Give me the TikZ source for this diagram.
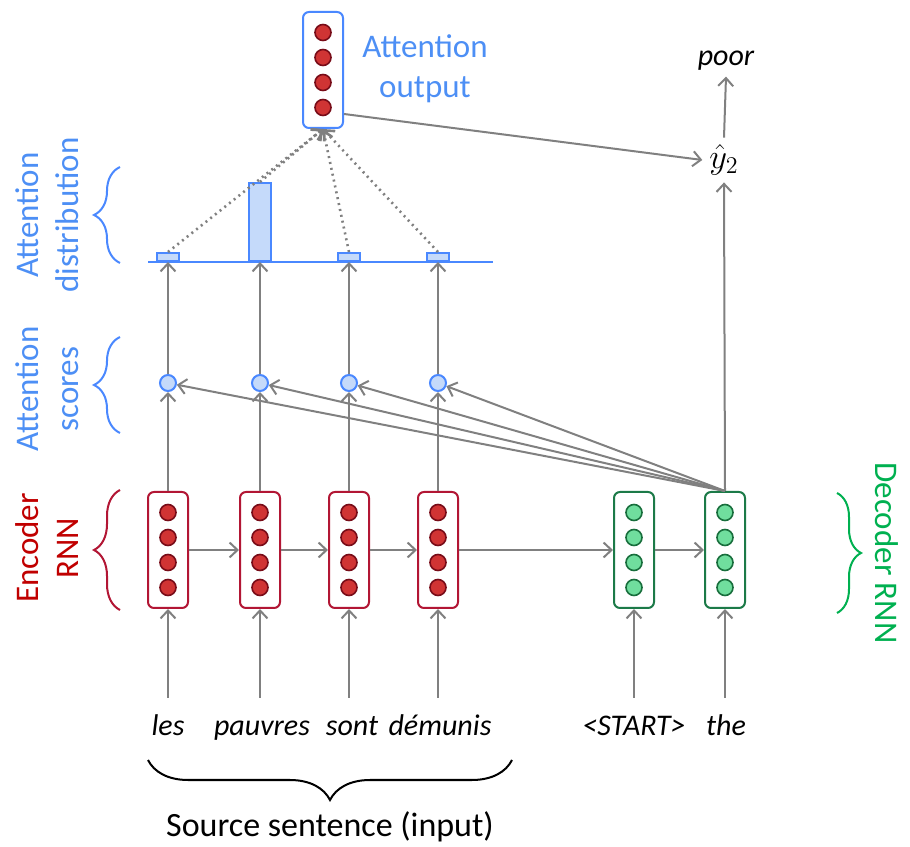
\documentclass[tikz,border=0pt]{standalone}
\usepackage{fontspec}
\setmainfont{Carlito}
\usetikzlibrary{arrows.meta,decorations.pathreplacing}

\definecolor{attblue}{RGB}{74,136,255}
\definecolor{attfill}{RGB}{197,218,250}
\definecolor{encred}{RGB}{178,22,52}
\definecolor{encdot}{RGB}{208,52,52}
\definecolor{encdotline}{RGB}{120,12,24}
\definecolor{decgreen}{RGB}{28,122,72}
\definecolor{decdot}{RGB}{112,222,158}
\definecolor{decdotline}{RGB}{24,110,60}
\definecolor{txtred}{RGB}{192,0,0}
\definecolor{txtgreen}{RGB}{0,176,80}
\definecolor{txtblue}{RGB}{77,143,245}
\definecolor{arrgray}{RGB}{128,128,128}

\begin{document}
\begin{tikzpicture}[x=0.5pt, y=0.5pt,
    cell/.style={draw, rounded corners=3pt, line width=1pt, fill=white,
      minimum width=20pt, minimum height=58pt, inner sep=0pt},
    enccell/.style={cell, draw=encred},
    deccell/.style={cell, draw=decgreen},
    outcell/.style={cell, draw=attblue},
    dot/.style={circle, line width=0.8pt, minimum size=8pt, inner sep=0pt},
    encdot/.style={dot, draw=encdotline, fill=encdot},
    decdot/.style={dot, draw=decdotline, fill=decdot},
    score/.style={circle, draw=attblue, fill=attfill, line width=1pt,
      minimum size=8pt, inner sep=0pt},
    bar/.style={draw=attblue, fill=attfill, line width=1pt, anchor=south,
      minimum width=11pt, inner sep=0pt},
    arr/.style={draw=arrgray, line width=1pt, -{Straight Barb[length=4pt,width=7.5pt]}},
    dotarr/.style={arr, dotted, line width=1.3pt},
    word/.style={font=\fontsize{15}{18}\selectfont\itshape,
      text height=1.6ex, text depth=0.4ex},
    side/.style={font=\fontsize{16.5}{20}\selectfont, align=center},
    brc/.style={decorate, line width=1pt, decoration={brace, amplitude=#1}}]
  \useasboundingbox (0,0) rectangle (910,846);

  % encoder and decoder cells
  \node[enccell] (e1) at (168,296) {};
  \node[enccell] (e2) at (260,296) {};
  \node[enccell] (e3) at (349,296) {};
  \node[enccell] (e4) at (438,296) {};
  \node[deccell] (d1) at (634,296) {};
  \node[deccell] (d2) at (725,296) {};
  \node[outcell] (ao) at (323,776) {};

  \foreach \c in {e1,e2,e3,e4}
    \foreach \k [count=\i] in {18.75,6.25,-6.25,-18.75}
      \node[encdot] (\c-\i) at ([yshift=\k pt]\c.center) {};
  \foreach \c in {d1,d2}
    \foreach \k [count=\i] in {18.75,6.25,-6.25,-18.75}
      \node[decdot] (\c-\i) at ([yshift=\k pt]\c.center) {};
  \foreach \k [count=\i] in {18.75,6.25,-6.25,-18.75}
    \node[encdot] (ao-\i) at ([yshift=\k pt]ao.center) {};

  % input words
  \node[word] (w1) at (168,116) {les};
  \node[word] (w2) at (262,116) {pauvres};
  \node[word] (w3) at (352,116) {sont};
  \node[word] (w4) at (440,116) {démunis};
  \node[word] (w5) at (634,116) {<START>};
  \node[word] (w6) at (726,116) {the};

  % attention scores
  \node[score] (s1) at (168,463) {};
  \node[score] (s2) at (260,463) {};
  \node[score] (s3) at (349,463) {};
  \node[score] (s4) at (438,463) {};

  % attention distribution
  \draw[attblue, line width=1pt] (148,584) -- (493,584);
  \node[bar, minimum height=4pt] (b1) at (168,584) {};
  \node[bar, minimum height=39pt] (b2) at (260,584) {};
  \node[bar, minimum height=4pt] (b3) at (349,584) {};
  \node[bar, minimum height=4pt] (b4) at (438,584) {};

  % output side
  \node[font=\fontsize{18}{20}\selectfont] (yh) at (724,686) {$\hat{y}_2$};
  \node[word] (poor) at (726,786) {poor};
  \node[side, text=txtblue] (aolab) at (425,777) {Attention\\output};

  \draw[arr] (e1.south |- 0,148) -- (e1.south);
  \draw[arr] (e2.south |- 0,148) -- (e2.south);
  \draw[arr] (e3.south |- 0,148) -- (e3.south);
  \draw[arr] (e4.south |- 0,148) -- (e4.south);
  \draw[arr] (d1.south |- 0,148) -- (d1.south);
  \draw[arr] (d2.south |- 0,148) -- (d2.south);

  \draw[arr] (e1) -- (e2);
  \draw[arr] (e2) -- (e3);
  \draw[arr] (e3) -- (e4);
  \draw[arr] (e4) -- (d1);
  \draw[arr] (d1) -- (d2);

  \draw[arr] (e1) -- (s1);
  \draw[arr] (e2) -- (s2);
  \draw[arr] (e3) -- (s3);
  \draw[arr] (e4) -- (s4);
  \draw[arr] (d2.north) -- (s1);
  \draw[arr] (d2.north) -- (s2);
  \draw[arr] (d2.north) -- (s3);
  \draw[arr] (d2.north) -- (s4);

  \draw[arr] (s1) -- (b1.south);
  \draw[arr] (s2) -- (b2.south);
  \draw[arr] (s3) -- (b3.south);
  \draw[arr] (s4) -- (b4.south);

  \draw[dotarr] (b1.north) -- (ao.south);
  \draw[dotarr] (b2.north) -- (ao.south);
  \draw[dotarr] (b3.north) -- (ao.south);
  \draw[dotarr] (b4.north) -- (ao.south);

  \draw[arr] ([yshift=-22pt]ao.east) -- (yh.west);
  \draw[arr] (d2.north) -- (yh.south);
  \draw[arr] (yh.north) -- (poor.south);

  % braces and their labels
  \draw[brc=13pt, attblue] (120,583) -- (120,679);
  \draw[brc=13pt, attblue] (120,413) -- (120,509);
  \draw[brc=13pt, encred] (120,236) -- (120,356);
  \draw[brc=12pt, txtgreen] (837,353) -- (837,233);
  \draw[brc=20pt, black] (512,86) -- (148,86);

  \node[side, text=txtblue, rotate=90] (lbdist) at (47,631) {Attention\\distribution};
  \node[side, text=txtblue, rotate=90] (lbscore) at (47,457) {Attention\\scores};
  \node[side, text=txtred, rotate=90] (lbenc) at (47,298) {Encoder\\RNN};
  \node[side, text=txtgreen, rotate=-90] (lbdec) at (887,293) {Decoder RNN};
  \node[side, font=\fontsize{17}{20}\selectfont] (lbsrc) at (330,19) {Source sentence (input)};
\end{tikzpicture}
\end{document}
